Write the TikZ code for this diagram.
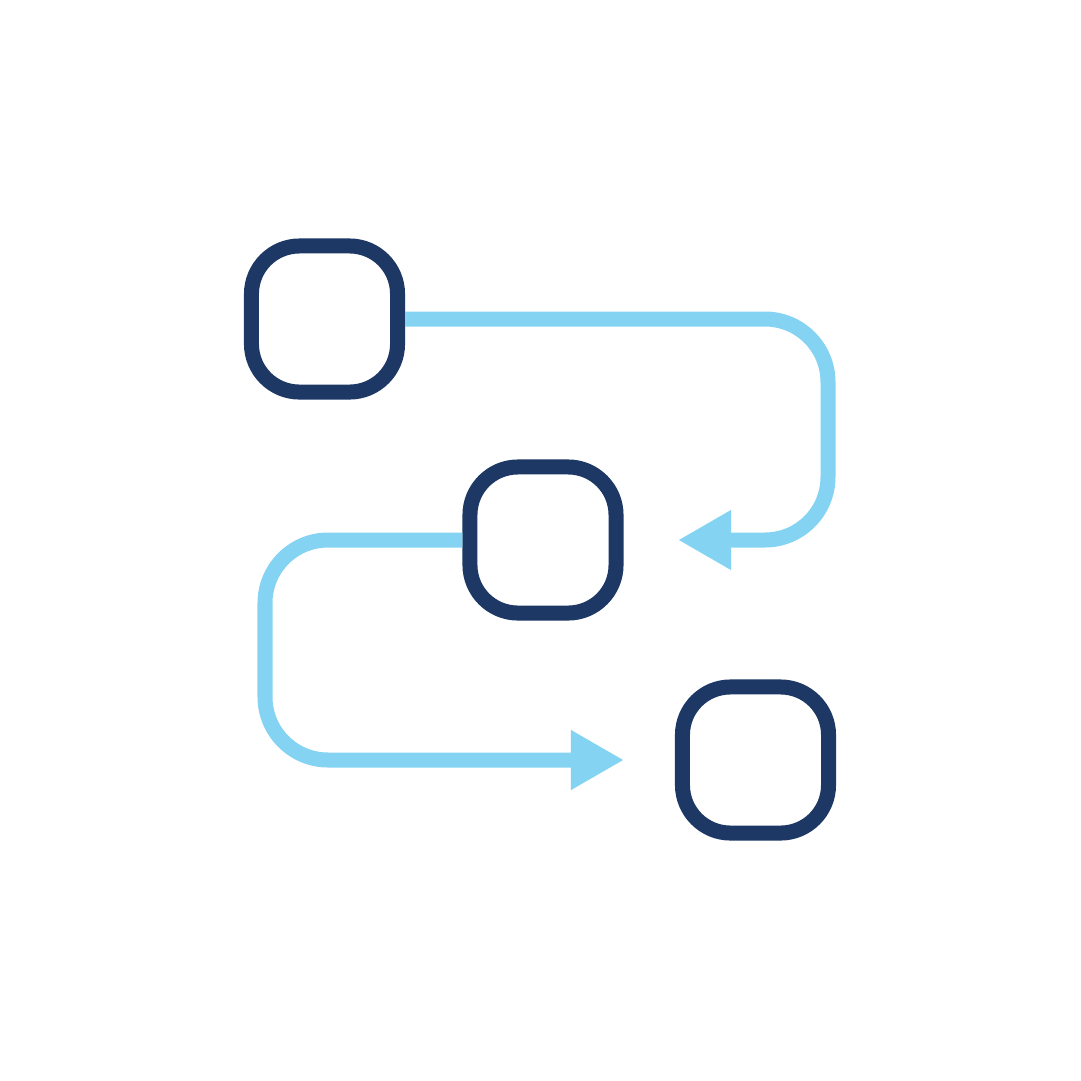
\documentclass[tikz,border=0pt]{standalone}
\usetikzlibrary{arrows.meta}
\definecolor{navy}{HTML}{1D3864}
\definecolor{sky}{HTML}{84D3F3}
\begin{document}
\begin{tikzpicture}[x=0.01cm, y=-0.01cm]
	\tikzstyle{Box} = [rectangle, inner sep=0pt, minimum width=1.46cm, minimum height=1.46cm, rounded corners=0.48cm, draw=navy, line width=0.15cm]
	\tikzstyle{flow} = [draw=sky, line width=0.15cm, rounded corners=0.63cm, -{Triangle[length=0.53cm, width=0.56cm]}]

	\useasboundingbox[fill=white] (0,0) rectangle (1081,1081);

	\node (b1) [Box] at (324.5,319) {};
	\node (b2) [Box] at (543,540) {};
	\node (b3) [Box] at (755.5,760) {};

	\coordinate (t1) at (678,540);
	\coordinate (t2) at (624,760);

	\draw [flow] (b1.east) -- (828,319) -- (828,540) -- (t1);
	\draw [flow] (b2.west) -- (265,540) -- (265,760) -- (t2);
\end{tikzpicture}
\end{document}
